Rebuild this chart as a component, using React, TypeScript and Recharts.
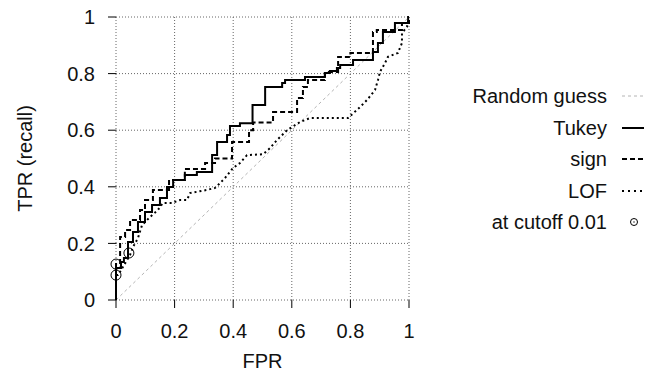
import { CartesianGrid, ComposedChart, Line, Scatter, XAxis, YAxis } from "recharts";

type Pt = { fpr: number; tpr: number };

const toPts = (pairs: number[][]): Pt[] => pairs.map(([fpr, tpr]) => ({ fpr, tpr }));

const axisTicks = [0, 0.2, 0.4, 0.6, 0.8, 1];

const randomGuess = toPts([
  [0, 0],
  [1, 1],
]);

// ROC steps: (fpr where the curve rises, tpr after the rise)
const tukeyRoc = toPts([
  [0, 0], [0, 0.113], [0.017, 0.134], [0.027, 0.148], [0.041, 0.205], [0.058, 0.24],
  [0.075, 0.276], [0.099, 0.311], [0.123, 0.336], [0.15, 0.36], [0.174, 0.399],
  [0.195, 0.424], [0.235, 0.442], [0.276, 0.452], [0.328, 0.512], [0.345, 0.558],
  [0.379, 0.583], [0.389, 0.615], [0.423, 0.625], [0.466, 0.689], [0.509, 0.753],
  [0.567, 0.767], [0.577, 0.777], [0.645, 0.788], [0.713, 0.802], [0.73, 0.809],
  [0.754, 0.82], [0.765, 0.83], [0.809, 0.848], [0.877, 0.876], [0.894, 0.908],
  [0.911, 0.947], [0.952, 0.979], [0.997, 1], [1, 1],
]);

const signRoc = toPts([
  [0, 0], [0, 0.127], [0.014, 0.223], [0.031, 0.247], [0.048, 0.283], [0.082, 0.318],
  [0.099, 0.353], [0.126, 0.389], [0.181, 0.424], [0.235, 0.463], [0.304, 0.484],
  [0.338, 0.5], [0.396, 0.558], [0.454, 0.6], [0.468, 0.627], [0.536, 0.664],
  [0.618, 0.714], [0.638, 0.753], [0.655, 0.777], [0.713, 0.806], [0.758, 0.859],
  [0.8, 0.873], [0.877, 0.947], [0.89, 0.954], [0.976, 0.979], [1, 1],
]);

const lofRoc = toPts([
  [0, 0], [0, 0.088], [0.007, 0.088], [0.048, 0.159], [0.058, 0.187], [0.075, 0.219],
  [0.089, 0.265], [0.116, 0.293], [0.143, 0.318], [0.16, 0.343], [0.191, 0.343],
  [0.218, 0.353], [0.242, 0.353], [0.253, 0.378], [0.311, 0.389], [0.338, 0.396],
  [0.355, 0.413], [0.372, 0.431], [0.399, 0.466], [0.423, 0.484], [0.447, 0.512],
  [0.502, 0.515], [0.526, 0.537], [0.549, 0.565], [0.584, 0.6], [0.628, 0.629],
  [0.662, 0.643], [0.792, 0.643], [0.833, 0.682], [0.857, 0.707], [0.884, 0.742],
  [0.894, 0.777], [0.901, 0.806], [0.918, 0.837], [0.928, 0.859], [0.962, 0.873],
  [0.976, 0.908], [0.976, 0.943], [0.993, 0.965], [1, 1],
]);

const cutoffPoints = toPts([
  [0, 0.127],
  [0, 0.088],
  [0.044, 0.166],
]);

const legendItems = [
  { label: "Random guess", stroke: "#b4b4b4", width: 1, dash: "3 3", marker: false },
  { label: "Tukey", stroke: "#000", width: 2, dash: undefined, marker: false },
  { label: "sign", stroke: "#000", width: 2, dash: "5 3", marker: false },
  { label: "LOF", stroke: "#000", width: 2, dash: "2 4", marker: false },
  { label: "at cutoff 0.01", stroke: "#000", width: 1, dash: undefined, marker: true },
];

const FONT = '"Liberation Sans", Arial, sans-serif';

function Legend() {
  return (
    <div style={{ position: "absolute", left: 0, top: 0, width: 660, height: 374, pointerEvents: "none" }}>
      {legendItems.map((item, i) => {
        const cy = 96 + i * 31.5;
        return (
          <div key={item.label}>
            <div
              style={{
                position: "absolute",
                left: 0,
                width: 607,
                top: cy - 12,
                height: 24,
                lineHeight: "24px",
                textAlign: "right",
                fontSize: 20,
                color: "#111",
              }}
            >
              {item.label}
            </div>
            <svg style={{ position: "absolute", left: 620, top: cy - 12 }} width={26} height={24}>
              {item.marker ? (
                <>
                  <circle cx={14} cy={12} r={3.5} fill="none" stroke="#000" strokeWidth={1} />
                  <circle cx={14} cy={12} r={0.7} fill="#000" />
                </>
              ) : (
                <line x1={2} x2={24} y1={12} y2={12} stroke={item.stroke} strokeWidth={item.width} strokeDasharray={item.dash} />
              )}
            </svg>
          </div>
        );
      })}
    </div>
  );
}

const CutoffCircle = (props: { cx?: number; cy?: number }) => (
  <circle cx={props.cx} cy={props.cy} r={5} fill="none" stroke="#000" strokeWidth={1} />
);

export default function App() {
  return (
    <div style={{ position: "absolute", left: 0, top: 0, width: 660, height: 374, background: "#fff", fontFamily: FONT, fontSize: 20 }}>
      <ComposedChart width={660} height={374} margin={{ top: 17, right: 251, bottom: 0, left: 0 }} style={{ fontFamily: FONT }}>
        <CartesianGrid stroke="#666" strokeDasharray="1 2" />
        <XAxis
          type="number"
          dataKey="fpr"
          domain={[0, 1]}
          ticks={axisTicks}
          height={74}
          axisLine={false}
          tickSize={8}
          tickMargin={16}
          tickLine={{ stroke: "#000" }}
          tick={{ fill: "#111", fontSize: 20 }}
          label={{ value: "FPR", position: "insideBottom", offset: 6, fill: "#111", fontSize: 20 }}
        />
        <YAxis
          type="number"
          dataKey="tpr"
          domain={[0, 1]}
          ticks={axisTicks}
          width={116}
          axisLine={false}
          tickSize={8}
          tickMargin={13}
          tickLine={{ stroke: "#000" }}
          tick={{ fill: "#111", fontSize: 20 }}
          label={{ value: "TPR (recall)", angle: -90, position: "insideLeft", offset: 25, fill: "#111", fontSize: 20, style: { textAnchor: "middle" } }}
        />
        <Line data={randomGuess} dataKey="tpr" type="linear" stroke="#b4b4b4" strokeWidth={1} strokeDasharray="3 3" dot={false} activeDot={false} isAnimationActive={false} />
        <Line data={lofRoc} dataKey="tpr" type="linear" stroke="#000" strokeWidth={2} strokeDasharray="2 3" dot={false} activeDot={false} isAnimationActive={false} />
        <Line data={signRoc} dataKey="tpr" type="stepAfter" stroke="#000" strokeWidth={2} strokeDasharray="5 3" dot={false} activeDot={false} isAnimationActive={false} />
        <Line data={tukeyRoc} dataKey="tpr" type="stepAfter" stroke="#000" strokeWidth={2} dot={false} activeDot={false} isAnimationActive={false} />
        <Scatter data={cutoffPoints} dataKey="tpr" shape={CutoffCircle} isAnimationActive={false} />
      </ComposedChart>
      <Legend />
    </div>
  );
}
